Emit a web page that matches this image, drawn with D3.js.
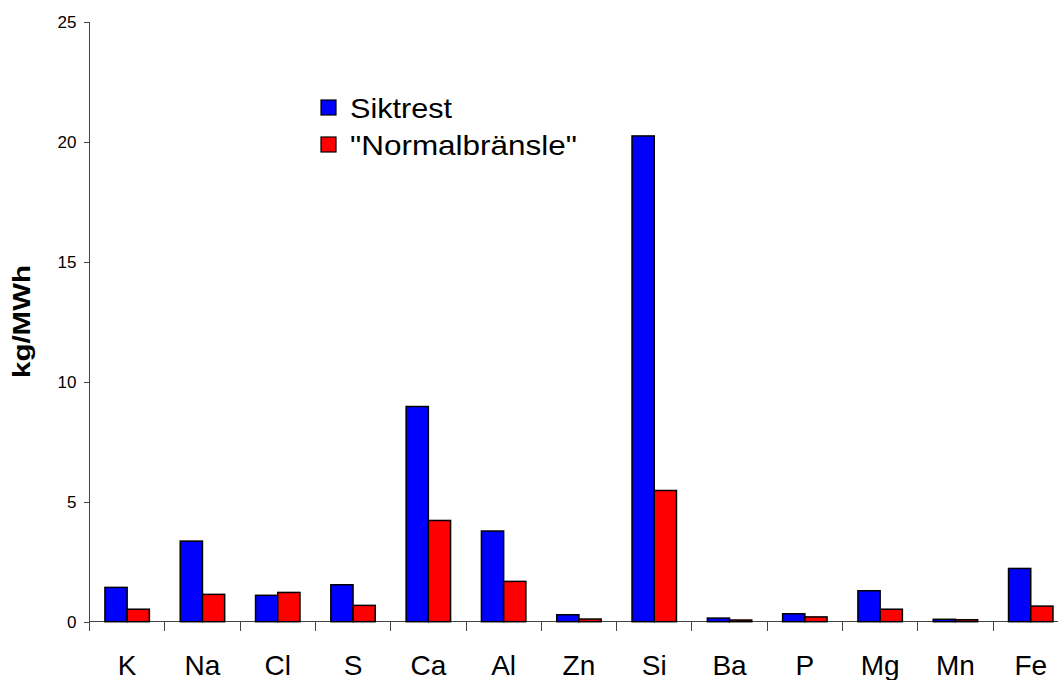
<!DOCTYPE html>
<html lang="sv">

<head>
  <meta charset="utf-8">
  <script src="https://cdn.jsdelivr.net/npm/d3@7/dist/d3.min.js"></script>

  <style>
    body {
      margin: 0;
      background: #fff;
      font-family: "Liberation Sans", Arial, sans-serif;
    }

    .axis path,
    .axis line {
      stroke: #444;
      shape-rendering: crispEdges;
    }

    .axis text {
      fill: #000;
    }
  </style>
</head>

<body>
  <svg id="chart"></svg>

  <script>
    // values (kg/MWh)
    var elements = ['K', 'Na', 'Cl', 'S', 'Ca', 'Al', 'Zn', 'Si', 'Ba', 'P', 'Mg', 'Mn', 'Fe'];
    var siktrest = [1.43, 3.36, 1.10, 1.54, 8.97, 3.78, 0.29, 20.25, 0.15, 0.33, 1.29, 0.10, 2.22];
    var normalbransle = [0.52, 1.14, 1.22, 0.68, 4.22, 1.68, 0.11, 5.47, 0.07, 0.20, 0.52, 0.08, 0.65];
    var seriesNames = ['Siktrest', '"Normalbränsle"'];
    var seriesColors = ['#0000ff', '#ff0000'];
    var yTicks = [0, 5, 10, 15, 20, 25];

    var width = 1058, height = 680;
    var x0 = 89.5, yZero = 621.7, yTop = 22;

    var svg = d3.select('#chart')
      .attr('width', width)
      .attr('height', height);

    // plot runs a bit past the right edge, as in the original
    var xScale = d3.scaleBand()
      .domain(elements)
      .range([x0, x0 + 13 * 75.3]);

    var groupWidth = xScale.bandwidth() * 0.59;
    var xSeries = d3.scaleBand()
      .domain([0, 1])
      .range([0, groupWidth]);

    var yScale = d3.scaleLinear()
      .domain([0, 25])
      .range([yZero, yTop]);

    var rows = elements.map(function (e, i) {
      return { name: e, values: [siktrest[i], normalbransle[i]] };
    });

    // x axis: line + ticks at band edges
    var xAxisG = svg.append('g').attr('class', 'x axis');
    xAxisG.append('line')
      .attr('x1', x0).attr('x2', xScale.range()[1])
      .attr('y1', yZero).attr('y2', yZero);
    xAxisG.selectAll('.xtick')
      .data(elements)
      .enter().append('line')
      .attr('class', 'xtick')
      .attr('x1', function (d) { return xScale(d); })
      .attr('x2', function (d) { return xScale(d); })
      .attr('y1', yZero).attr('y2', yZero + 9);
    xAxisG.selectAll('.xlabel')
      .data(elements)
      .enter().append('text')
      .attr('class', 'xlabel')
      .attr('x', function (d) { return xScale(d) + xScale.bandwidth() / 2; })
      .attr('y', 675)
      .attr('text-anchor', 'middle')
      .style('font-size', '28px')
      .text(function (d) { return d; });

    // y axis
    var yAxis = d3.axisLeft(yScale)
      .tickValues(yTicks)
      .tickSize(6)
      .tickPadding(7)
      .tickFormat(d3.format('d'));

    svg.append('g')
      .attr('class', 'y axis')
      .attr('transform', 'translate(' + x0 + ',0)')
      .call(yAxis)
      .call(function (g) {
        g.select('.domain').attr('d', 'M0,' + yTop + 'V' + yZero);
        g.selectAll('text').style('font-size', '17px').style('font-family', '"Liberation Sans", Arial, sans-serif');
      });

    svg.append('text')
      .attr('transform', 'translate(30,321.5) rotate(-90)')
      .attr('text-anchor', 'middle')
      .attr('textLength', 113)
      .attr('lengthAdjust', 'spacingAndGlyphs')
      .style('font-size', '24px')
      .style('font-weight', 'bold')
      .text('kg/MWh');

    // bars
    var groups = svg.selectAll('.group')
      .data(rows)
      .enter().append('g')
      .attr('class', 'group')
      .attr('transform', function (d) {
        return 'translate(' + (xScale(d.name) + (xScale.bandwidth() - groupWidth) / 2) + ',0)';
      });

    groups.selectAll('rect')
      .data(function (d) { return d.values; })
      .enter().append('rect')
      .attr('x', function (d, i) { return xSeries(i); })
      .attr('y', function (d) { return yScale(d); })
      .attr('width', xSeries.bandwidth())
      .attr('height', function (d) { return yZero - yScale(d); })
      .attr('fill', function (d, i) { return seriesColors[i]; })
      .attr('stroke', '#000')
      .attr('stroke-width', 1.5);

    // legend
    var legend = svg.selectAll('.legend')
      .data(seriesNames)
      .enter().append('g')
      .attr('class', 'legend')
      .attr('transform', function (d, i) { return 'translate(321,' + (100 + i * 37) + ')'; });

    legend.append('rect')
      .attr('width', 15)
      .attr('height', 15)
      .attr('fill', function (d, i) { return seriesColors[i]; })
      .attr('stroke', '#000')
      .attr('stroke-width', 1.2);

    legend.append('text')
      .attr('x', 29)
      .attr('y', 18)
      .attr('textLength', function (d, i) { return i === 0 ? 102 : 227; })
      .attr('lengthAdjust', 'spacingAndGlyphs')
      .style('font-size', '28px')
      .text(function (d) { return d; });
  </script>
</body>

</html>
